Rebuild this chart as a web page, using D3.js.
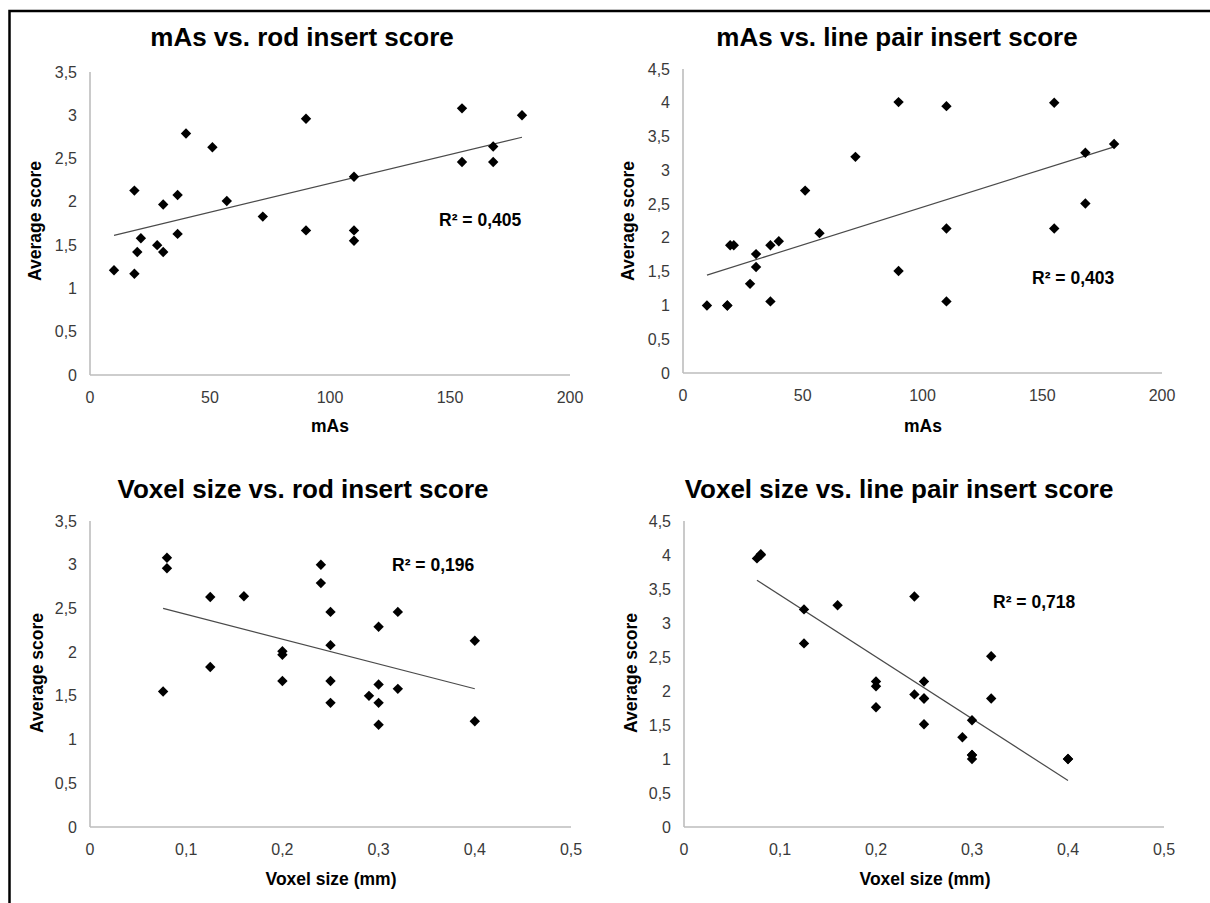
<!DOCTYPE html>
<html>
<head>
<meta charset="utf-8">
<script src="https://cdn.jsdelivr.net/npm/d3@7"></script>
<style>
  html, body { margin: 0; padding: 0; background: #fff; }
  svg { display: block; }
  .tick-label { font-family: "Liberation Sans Narrow", "Arial Narrow", "Liberation Sans", Arial, sans-serif; font-size: 16px; fill: #3a3a3a; }
  .title { font-family: "Liberation Sans", Arial, sans-serif; font-weight: bold; font-size: 26px; fill: #000; }
  .axis-title { font-family: "Liberation Sans", Arial, sans-serif; font-weight: bold; font-size: 17.5px; fill: #000; }
  .r2 { font-family: "Liberation Sans", Arial, sans-serif; font-weight: bold; font-size: 17.5px; fill: #000; }
</style>
</head>
<body>
<svg id="chart" width="1210" height="903"></svg>
<script>
// One entry per scan: tube load, reconstructed voxel size and the two observer scores.
const mAs      = [155, 90, 110, 51, 168, 72, 57, 30.5, 110, 90, 180, 40, 155, 168, 36.5, 19.7, 30.5, 28, 110, 36.5, 18.5, 21.2, 18.5, 10];
const voxelMm  = [0.08, 0.08, 0.076, 0.125, 0.16, 0.125, 0.2, 0.2, 0.2, 0.25, 0.24, 0.24, 0.25, 0.32, 0.25, 0.25, 0.3, 0.29, 0.3, 0.3, 0.3, 0.32, 0.4, 0.4];
const rodScore = [3.08, 2.96, 1.55, 2.63, 2.64, 1.83, 2.01, 1.97, 1.67, 1.67, 3.00, 2.79, 2.46, 2.46, 2.08, 1.42, 1.42, 1.50, 2.29, 1.63, 1.17, 1.58, 2.13, 1.21];
const lpScore  = [4.00, 4.01, 3.95, 2.70, 3.26, 3.20, 2.07, 1.76, 2.14, 1.51, 3.39, 1.95, 2.14, 2.51, 1.89, 1.89, 1.57, 1.32, 1.06, 1.06, 1.00, 1.89, 1.00, 1.00];

const mAsTicks   = [0, 50, 100, 150, 200];
const voxelTicks = [0, 0.1, 0.2, 0.3, 0.4, 0.5];
const rodTicks   = [0, 0.5, 1, 1.5, 2, 2.5, 3, 3.5];
const lpTicks    = [0, 0.5, 1, 1.5, 2, 2.5, 3, 3.5, 4, 4.5];

const panelTitles = [
  "mAs vs. rod insert score",
  "mAs vs. line pair insert score",
  "Voxel size vs. rod insert score",
  "Voxel size vs. line pair insert score"
];
const xTitles = ["mAs", "mAs", "Voxel size (mm)", "Voxel size (mm)"];
const yTitle = "Average score";
const r2Labels = ["R\u00B2 = 0,405", "R\u00B2 = 0,403", "R\u00B2 = 0,196", "R\u00B2 = 0,718"];

// Layout of each panel on the page
const panels = [
  { xs: mAs,     ys: rodScore, xDom: [0, 200], yDom: [0, 3.5], xT: mAsTicks,   yT: rodTicks,
    px: [90, 570],  py: [375, 72],  title: [302, 46],  xt: [330, 432], yt: [41, 221],  r2: [439, 226] },
  { xs: mAs,     ys: lpScore,  xDom: [0, 200], yDom: [0, 4.5], xT: mAsTicks,   yT: lpTicks,
    px: [683, 1162], py: [373, 69], title: [897, 46],  xt: [923, 432], yt: [634, 221], r2: [1032, 284] },
  { xs: voxelMm, ys: rodScore, xDom: [0, 0.5], yDom: [0, 3.5], xT: voxelTicks, yT: rodTicks,
    px: [90, 571],  py: [827, 521], title: [303, 498], xt: [331, 885], yt: [43, 673],  r2: [392, 571] },
  { xs: voxelMm, ys: lpScore,  xDom: [0, 0.5], yDom: [0, 4.5], xT: voxelTicks, yT: lpTicks,
    px: [684, 1164], py: [827, 521], title: [899, 498], xt: [925, 885], yt: [637, 673], r2: [993, 608] }
];

const fmt = v => String(v).replace(".", ",");

// Ordinary least-squares fit, as used for the linear trendline
function linearFit(xs, ys) {
  const mx = d3.mean(xs), my = d3.mean(ys);
  let sxy = 0, sxx = 0;
  xs.forEach((x, i) => { sxy += (x - mx) * (ys[i] - my); sxx += (x - mx) * (x - mx); });
  const b = sxy / sxx;
  return { slope: b, intercept: my - b * mx };
}

const svg = d3.select("#chart");

// Outer frame: left and top rules
svg.append("path")
  .attr("d", "M9.5,903 L9.5,11 L1210,11")
  .attr("fill", "none")
  .attr("stroke", "#000")
  .attr("stroke-width", 2.5);

const diamond = d3.symbol().type(d3.symbolSquare).size(54);

panels.forEach((p, k) => {
  const g = svg.append("g");
  const x = d3.scaleLinear().domain(p.xDom).range(p.px);
  const y = d3.scaleLinear().domain(p.yDom).range(p.py);

  // Axis lines
  g.append("line")
    .attr("x1", x(p.xDom[0])).attr("x2", x(p.xDom[0]))
    .attr("y1", y(p.yDom[0])).attr("y2", y(p.yDom[1]))
    .attr("stroke", "#bdbdbd").attr("stroke-width", 1.6);
  g.append("line")
    .attr("x1", x(p.xDom[0])).attr("x2", x(p.xDom[1]))
    .attr("y1", y(p.yDom[0])).attr("y2", y(p.yDom[0]))
    .attr("stroke", "#bdbdbd").attr("stroke-width", 1.6);

  // Tick labels
  g.selectAll(".ytl").data(p.yT).enter().append("text")
    .attr("class", "tick-label")
    .attr("x", x(p.xDom[0]) - 13)
    .attr("y", d => y(d) + 5.5)
    .attr("text-anchor", "end")
    .text(fmt);
  g.selectAll(".xtl").data(p.xT).enter().append("text")
    .attr("class", "tick-label")
    .attr("x", d => x(d))
    .attr("y", y(p.yDom[0]) + 28)
    .attr("text-anchor", "middle")
    .text(fmt);

  // Trendline over the span of the data
  const fit = linearFit(p.xs, p.ys);
  const [x0, x1] = d3.extent(p.xs);
  g.append("line")
    .attr("x1", x(x0)).attr("y1", y(fit.intercept + fit.slope * x0))
    .attr("x2", x(x1)).attr("y2", y(fit.intercept + fit.slope * x1))
    .attr("stroke", "#4a4a4a").attr("stroke-width", 1.2);

  // Markers
  g.selectAll(".pt").data(p.xs.map((v, i) => [v, p.ys[i]])).enter().append("path")
    .attr("d", diamond)
    .attr("transform", d => `translate(${x(d[0])},${y(d[1])}) rotate(45)`)
    .attr("fill", "#000");

  // Texts
  g.append("text").attr("class", "title")
    .attr("x", p.title[0]).attr("y", p.title[1])
    .attr("text-anchor", "middle").text(panelTitles[k]);
  g.append("text").attr("class", "axis-title")
    .attr("x", p.xt[0]).attr("y", p.xt[1])
    .attr("text-anchor", "middle").text(xTitles[k]);
  g.append("text").attr("class", "axis-title")
    .attr("transform", `translate(${p.yt[0]},${p.yt[1]}) rotate(-90)`)
    .attr("text-anchor", "middle").text(yTitle);
  g.append("text").attr("class", "r2")
    .attr("x", p.r2[0]).attr("y", p.r2[1])
    .text(r2Labels[k]);
});
</script>
</body>
</html>
